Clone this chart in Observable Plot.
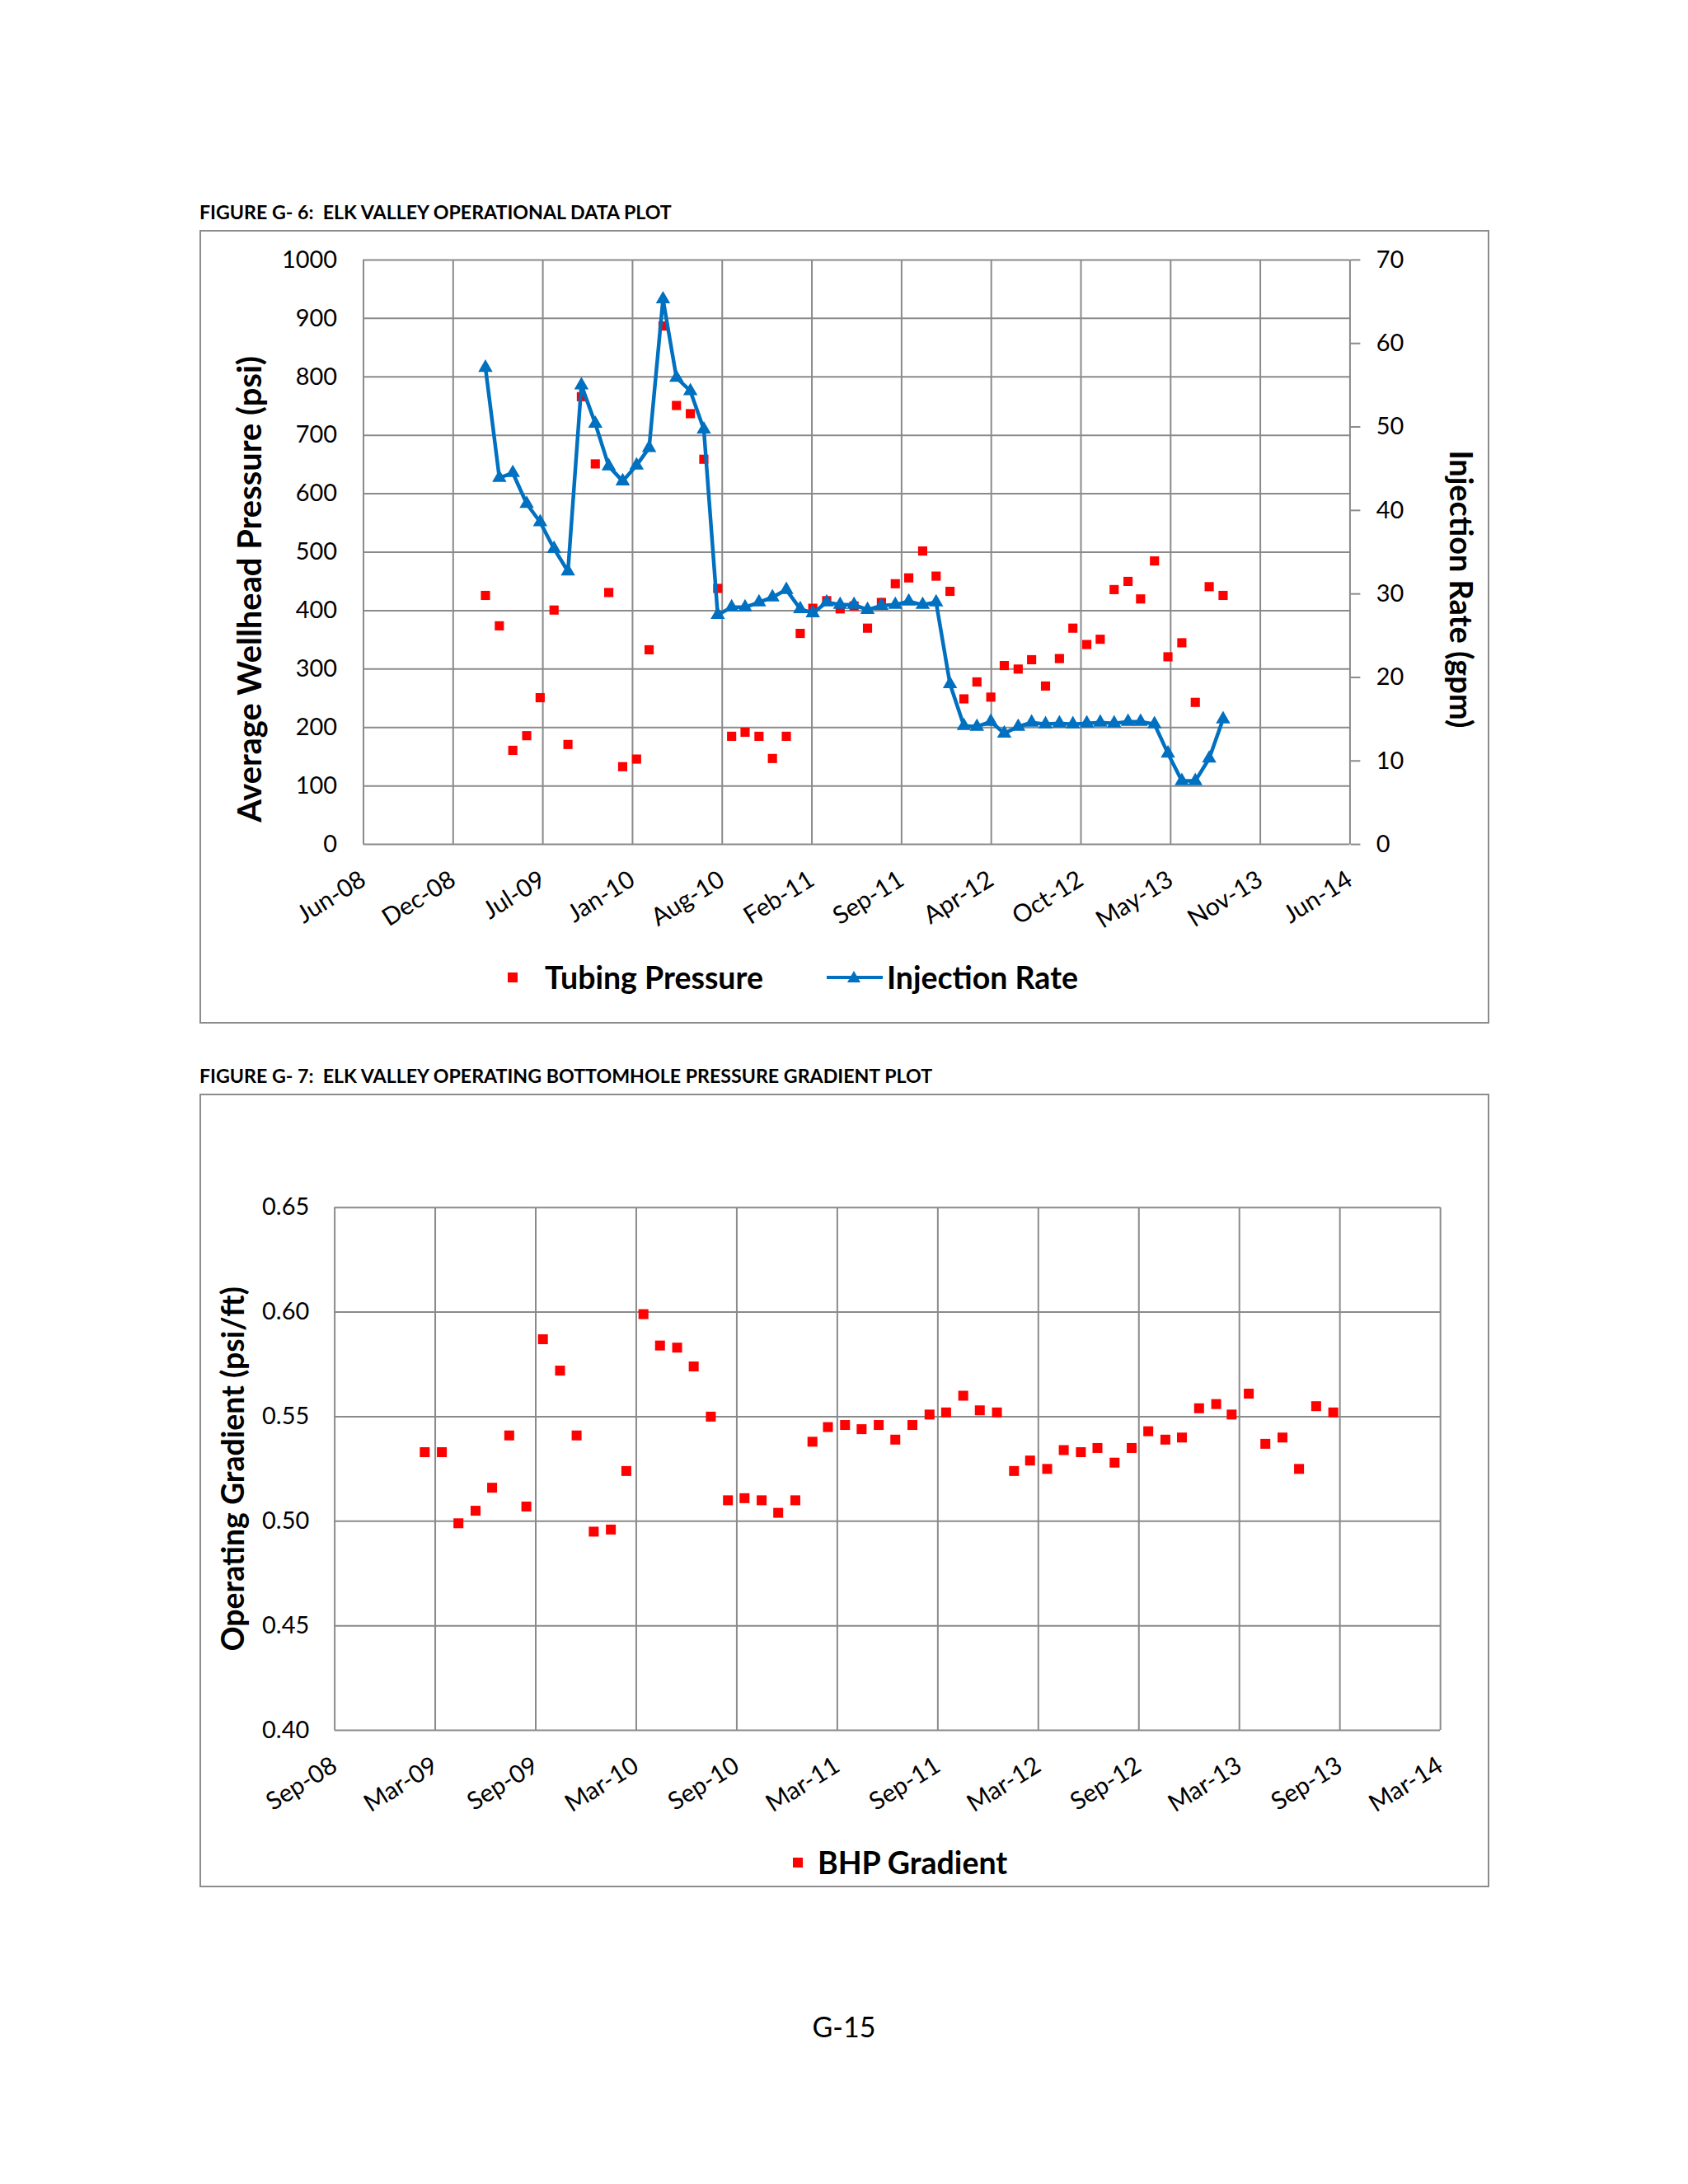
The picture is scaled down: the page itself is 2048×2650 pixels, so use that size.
<!DOCTYPE html>
<html>
<head>
<meta charset="utf-8">
<script src="https://cdn.jsdelivr.net/npm/d3@7"></script>
<script src="https://cdn.jsdelivr.net/npm/@observablehq/plot@0.6"></script>
<style>
  html, body { margin: 0; padding: 0; background: #fff; }
  #page { position: relative; width: 2048px; height: 2650px; background: #fff; font-family: Lato, "Open Sans", sans-serif; color: #000; }
  .title { position: absolute; left: 242px; font-weight: bold; font-size: 23.2px; line-height: 1; white-space: pre; }
  .frame { position: absolute; left: 242px; width: 1561px; height: 959px; border: 2px solid #8c8c8c; }
  .frame svg { position: absolute; left: -2px; top: -2px; }
  .legend { position: absolute; display: flex; align-items: center; font-weight: bold; font-size: 37.5px; line-height: 1; white-space: pre; }
  .pnum { position: absolute; left: 0; width: 2048px; text-align: center; font-size: 34px; line-height: 1; }
</style>
</head>
<body>
<div id="page">
  <div class="title" id="t1" style="top:246px">FIGURE G- 6:  ELK VALLEY OPERATIONAL DATA PLOT</div>
  <div class="frame" id="f1" style="top:279px"></div>
  <div class="title" id="t2" style="top:1294px">FIGURE G- 7:  ELK VALLEY OPERATING BOTTOMHOLE PRESSURE GRADIENT PLOT</div>
  <div class="frame" id="f2" style="top:1327px"></div>
  <div class="legend" style="left:616px; top:1167px">
    <span style="display:inline-block;width:12px;height:12px;background:#ff0000;margin-right:33px"></span><span>Tubing Pressure</span>
  </div>
  <div class="legend" style="left:1002px; top:1167px">
    <svg width="70" height="20" style="margin-right:4px"><line x1="1" y1="10" x2="69" y2="10" stroke="#0070c0" stroke-width="4"/><path d="M34,2 L42,16 L26,16 Z" fill="#0070c0"/></svg><span>Injection Rate</span>
  </div>
  <div class="legend" style="left:962px; top:2241px">
    <span style="display:inline-block;width:12px;height:12px;background:#ff0000;margin-right:18px"></span><span>BHP Gradient</span>
  </div>
  <div class="pnum" style="top:2442px">G-15</div>
</div>
<script>
// ---------- DATA ----------
const months = [
  "2009-02","2009-03","2009-04","2009-05","2009-06","2009-07","2009-08","2009-09","2009-10","2009-11","2009-12",
  "2010-01","2010-02","2010-03","2010-04","2010-05","2010-06","2010-07","2010-08","2010-09","2010-10","2010-11","2010-12",
  "2011-01","2011-02","2011-03","2011-04","2011-05","2011-06","2011-07","2011-08","2011-09","2011-10","2011-11","2011-12",
  "2012-01","2012-02","2012-03","2012-04","2012-05","2012-06","2012-07","2012-08","2012-09","2012-10","2012-11","2012-12",
  "2013-01","2013-02","2013-03","2013-04","2013-05","2013-06","2013-07","2013-08"
];
const tubingPressure = [
  426,374,161,186,251,401,171,766,651,431,133,
  146,333,887,751,737,659,438,185,192,185,147,185,
  361,404,417,403,408,370,414,446,456,502,459,433,
  249,278,252,306,300,316,271,318,370,342,351,436,
  450,420,485,321,345,243,441,426
];
const injectionRate = [
  57.1,43.9,44.5,40.8,38.6,35.4,32.7,55.0,50.4,45.3,43.5,
  45.4,47.5,65.3,55.9,54.3,49.7,27.5,28.4,28.4,29.0,29.6,30.5,
  28.2,27.7,29.0,28.7,28.7,28.1,28.6,28.7,29.1,28.7,29.0,19.2,
  14.2,14.1,14.7,13.3,14.1,14.6,14.4,14.5,14.4,14.5,14.6,14.5,
  14.7,14.7,14.4,10.9,7.6,7.6,10.3,15.0
];
const bhpGradient = [
  0.533,0.533,0.499,0.505,0.516,0.541,0.507,0.587,0.572,0.541,0.495,
  0.496,0.524,0.599,0.584,0.583,0.574,0.550,0.510,0.511,0.510,0.504,0.510,
  0.538,0.545,0.546,0.544,0.546,0.539,0.546,0.551,0.552,0.560,0.553,0.552,
  0.524,0.529,0.525,0.534,0.533,0.535,0.528,0.535,0.543,0.539,0.540,0.554,
  0.556,0.551,0.561,0.537,0.540,0.525,0.555,0.552
];

const xTickDates1 = ["2008-06-01","2008-12-18","2009-07-06","2010-01-22","2010-08-10","2011-02-26","2011-09-14","2012-04-01","2012-10-18","2013-05-06","2013-11-22","2014-06-10"];
const xTickLabels1 = ["Jun-08","Dec-08","Jul-09","Jan-10","Aug-10","Feb-11","Sep-11","Apr-12","Oct-12","May-13","Nov-13","Jun-14"];
const pressureTicks = [0,100,200,300,400,500,600,700,800,900,1000];
const rateTicks = [0,10,20,30,40,50,60,70];

const xTickDates2 = ["2008-09-18","2009-03-19","2009-09-17","2010-03-18","2010-09-16","2011-03-17","2011-09-15","2012-03-15","2012-09-13","2013-03-14","2013-09-12","2014-03-13"];
const xTickLabels2 = ["Sep-08","Mar-09","Sep-09","Mar-10","Sep-10","Mar-11","Sep-11","Mar-12","Sep-12","Mar-13","Sep-13","Mar-14"];
const gradientTicks = [0.40,0.45,0.50,0.55,0.60,0.65];

// ---------- helpers ----------
const monthEnd = m => { const [y, mo] = m.split("-").map(Number); return new Date(Date.UTC(y, mo, 0)); };
const toDate = s => new Date(s + "T00:00:00Z");
const gridColor = "#8a8a8a";
const psiPerGpm = 1000 / 70;

const rows = months.map((m, i) => ({date: monthEnd(m), tubing: tubingPressure[i], rate: injectionRate[i], bhp: bhpGradient[i]}));

// ---------- Chart 1 ----------
const ticks1 = xTickDates1.map(toDate);
const lab1 = new Map(ticks1.map((d, i) => [+d, xTickLabels1[i]]));
const W = 1565, H1 = 860;
const chart1 = Plot.plot({
  width: W, height: H1,
  marginLeft: 199, marginRight: 166, marginTop: 36, marginBottom: H1 - 747,
  style: {fontFamily: "Lato, sans-serif", fontSize: "29px", color: "#000", background: "transparent", overflow: "visible"},
  x: {type: "utc", domain: [ticks1[0], ticks1[ticks1.length - 1]]},
  y: {domain: [0, 1000]},
  marks: [
    Plot.ruleX(ticks1, {stroke: gridColor, strokeWidth: 2}),
    Plot.ruleY(pressureTicks, {stroke: gridColor, strokeWidth: 2}),
    Plot.axisY(pressureTicks, {anchor: "left", tickSize: 0, tickPadding: 32, label: null, fill: "#000", tickFormat: d => String(d)}),
    Plot.axisY(rateTicks.map(v => v * psiPerGpm), {anchor: "right", tickSize: 12, tickPadding: 20, stroke: gridColor, strokeWidth: 2, fill: "#000", label: null, tickFormat: v => String(Math.round(v / psiPerGpm))}),
    Plot.axisX(ticks1, {anchor: "bottom", tickSize: 0, tickPadding: 40, tickRotate: -32, label: null, fill: "#000", fontSize: 30, tickFormat: d => lab1.get(+d)}),
    Plot.dot(rows, {x: "date", y: "tubing", symbol: "square", fill: "#ff0000", r: 6.3}),
    Plot.line(rows, {x: "date", y: d => d.rate * psiPerGpm, stroke: "#0070c0", strokeWidth: 4.5, curve: "linear"}),
    Plot.dot(rows, {x: "date", y: d => d.rate * psiPerGpm, symbol: "triangle", fill: "#0070c0", r: 6.5}),
    Plot.text(["Average Wellhead Pressure (psi)"], {text: d => d, frameAnchor: "left", textAnchor: "middle", rotate: -90, dx: -137, dy: 45, fontSize: 40, fontWeight: "bold", fill: "#000"}),
    Plot.text(["Injection Rate (gpm)"], {text: d => d, frameAnchor: "right", textAnchor: "middle", rotate: 90, dx: 134, dy: 45, fontSize: 38, fontWeight: "bold", fill: "#000"})
  ]
});
document.getElementById("f1").appendChild(chart1);

// ---------- Chart 2 ----------
const ticks2 = xTickDates2.map(toDate);
const lab2 = new Map(ticks2.map((d, i) => [+d, xTickLabels2[i]]));
const H2 = 900;
const chart2 = Plot.plot({
  width: W, height: H2,
  marginLeft: 164, marginRight: 56, marginTop: 138, marginBottom: H2 - (2101 - 1327),
  style: {fontFamily: "Lato, sans-serif", fontSize: "29px", color: "#000", background: "transparent", overflow: "visible"},
  x: {type: "utc", domain: [ticks2[0], ticks2[ticks2.length - 1]]},
  y: {domain: [0.40, 0.65]},
  marks: [
    Plot.ruleX(ticks2, {stroke: gridColor, strokeWidth: 2}),
    Plot.ruleY(gradientTicks, {stroke: gridColor, strokeWidth: 2}),
    Plot.axisY(gradientTicks, {anchor: "left", tickSize: 0, tickPadding: 31, label: null, fill: "#000", tickFormat: d3.format(".2f")}),
    Plot.axisX(ticks2, {anchor: "bottom", tickSize: 0, tickPadding: 40, tickRotate: -32, label: null, fill: "#000", fontSize: 30, tickFormat: d => lab2.get(+d)}),
    Plot.dot(rows, {x: "date", y: "bhp", symbol: "square", fill: "#ff0000", r: 6.8}),
    Plot.text(["Operating Gradient (psi/ft)"], {text: d => d, frameAnchor: "left", textAnchor: "middle", rotate: -90, dx: -122, dy: 0, fontSize: 37.5, fontWeight: "bold", fill: "#000"})
  ]
});
document.getElementById("f2").appendChild(chart2);
</script>
</body>
</html>
